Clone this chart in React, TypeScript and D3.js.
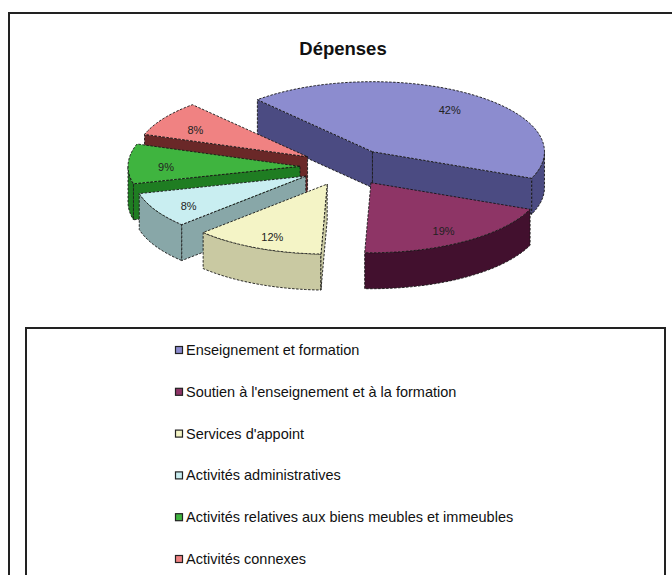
import { useMemo } from 'react';
import * as d3 from 'd3';

// Chart data
const categories = [
  'Enseignement et formation',
  "Soutien à l'enseignement et à la formation",
  "Services d'appoint",
  'Activités administratives',
  'Activités relatives aux biens meubles et immeubles',
  'Activités connexes',
];
const values = [42, 19, 12, 8, 9, 8];
const topColors = ['#8c8ccf', '#8e3566', '#f4f4c6', '#c9eef1', '#3fb43f', '#f08282'];
const sideColors = ['#4b4b82', '#42102e', '#c9c9a2', '#88a7a8', '#1f7d22', '#6a2828'];
const title = 'Dépenses';

const W = 672;
const H = 575;

// Pie geometry
const cx = 346;
const cy = 167;
const rx = 172;
const ry = 70;
const depth = 36;
const explode = 46;
const startDeg = -42;

type Pt = [number, number];

function App() {
  const slices = useMemo(() => {
    const pie = d3.pie<number>()
      .sort(null)
      .value(d => d)
      .startAngle((startDeg * Math.PI) / 180)
      .endAngle((startDeg * Math.PI) / 180 + 2 * Math.PI);
    const arcs = pie(values);

    const line = d3.line<Pt>();

    const sample = (a: number, b: number) => {
      const n = Math.max(2, Math.ceil(Math.abs(b - a) / 0.03));
      return d3.range(n + 1).map(i => a + ((b - a) * i) / n);
    };

    return arcs.map((arc, i) => {
      const a0 = arc.startAngle;
      const a1 = arc.endAngle;
      const m = (a0 + a1) / 2;
      const ox = explode * Math.sin(m);
      const oy = -explode * (ry / rx) * Math.cos(m);
      const pt = (t: number, r: number, h: number): Pt => [
        cx + ox + rx * r * Math.sin(t),
        cy + oy - ry * r * Math.cos(t) + h,
      ];

      const faces: string[] = [];

      // outer wall (front half only)
      for (const k of [-1, 0, 1]) {
        const lo = Math.max(a0, Math.PI / 2 + 2 * Math.PI * k);
        const hi = Math.min(a1, (3 * Math.PI) / 2 + 2 * Math.PI * k);
        if (hi > lo) {
          const topArc = sample(lo, hi).map(t => pt(t, 1, 0));
          const botArc = sample(lo, hi).reverse().map(t => pt(t, 1, depth));
          faces.push(line([...topArc, ...botArc])! + 'Z');
        }
      }

      // radial walls
      const radial = (t: number) =>
        line([pt(t, 0, 0), pt(t, 1, 0), pt(t, 1, depth), pt(t, 0, depth)])! + 'Z';
      if (Math.sin(a0) < 0) faces.push(radial(a0));
      if (Math.sin(a1) > 0) faces.push(radial(a1));

      const top = line([pt(a0, 0, 0), ...sample(a0, a1).map(t => pt(t, 1, 0))])! + 'Z';
      const label = pt(m, 0.78, 3);

      return {
        i,
        value: values[i],
        order: -Math.cos(m),
        faces,
        top,
        label,
      };
    }).sort((a, b) => a.order - b.order);
  }, []);

  const legendY = d3.scalePoint<string>()
    .domain(categories)
    .range([350, 559]);

  const outline = {
    stroke: '#161616',
    strokeWidth: 0.9,
    strokeDasharray: '2.5 1.5',
  };

  return (
    <svg
      width={W}
      height={H}
      style={{ position: 'absolute', left: 0, top: 0, background: '#fff' }}
      fontFamily="'Liberation Sans', Arial, sans-serif"
    >
      {/* chart frame */}
      <rect x={9} y={13} width={W} height={H} fill="none" stroke="#222" strokeWidth={2} />

      <text x={343} y={55} textAnchor="middle" fontSize={18.5} fontWeight="bold" fill="#111">
        {title}
      </text>

      {slices.map(s => (
        <g key={s.i}>
          {s.faces.map((f, j) => (
            <path key={j} d={f} fill={sideColors[s.i]} {...outline} />
          ))}
          <path d={s.top} fill={topColors[s.i]} {...outline} />
        </g>
      ))}

      {slices.map(s => (
        <text
          key={'l' + s.i}
          x={s.label[0]}
          y={s.label[1]}
          dy="0.35em"
          textAnchor="middle"
          fontSize={11}
          fill="#222"
        >
          {s.value}%
        </text>
      ))}

      {/* legend */}
      <rect x={26} y={328} width={639} height={300} fill="#fff" stroke="#222" strokeWidth={2} />
      {categories.map((c, i) => (
        <g key={c} transform={`translate(0, ${legendY(c)})`}>
          <rect x={175.5} y={-3.5} width={7} height={7} fill={topColors[i]} stroke="#222" strokeWidth={1.2} />
          <text x={186} y={0} dy="0.35em" fontSize={14.5} fill="#111">
            {c}
          </text>
        </g>
      ))}
    </svg>
  );
}

export default App;
